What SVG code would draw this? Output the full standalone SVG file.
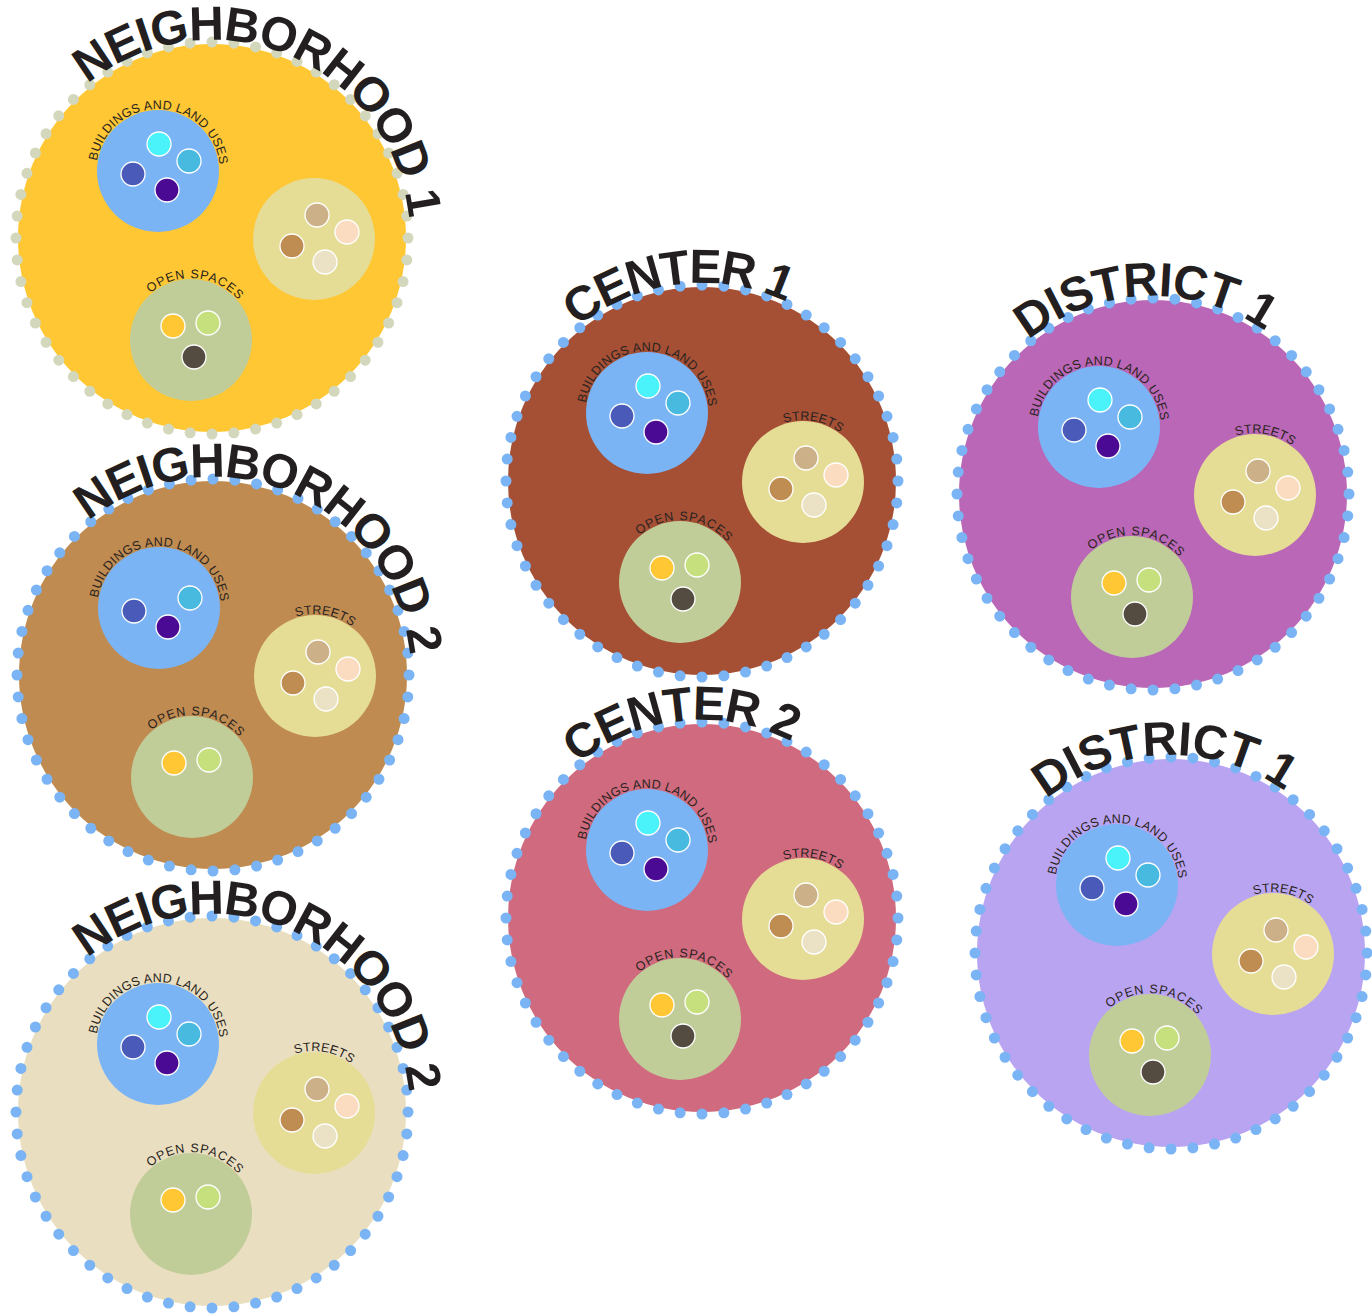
<svg xmlns="http://www.w3.org/2000/svg" xmlns:xlink="http://www.w3.org/1999/xlink" width="1372" height="1316" viewBox="0 0 1372 1316">
<style>
.title{font-family:"Liberation Sans",Arial,sans-serif;font-weight:700;font-size:48px;fill:#231f20}
.lbl{font-family:"Liberation Sans",Arial,sans-serif;font-size:12.5px;fill:#2a2420}
.ring{fill:none;stroke-width:11;stroke-linecap:round;stroke-dasharray:0 1}
.grey{stroke:#d3d7bb}
.blue{stroke:#7ab4f5}
.bld{fill:#7ab4f5}
.str{fill:#e5dc96}
.opn{fill:#c1cd99}
.d{stroke:#fff;stroke-width:1.3}
</style>
<defs>
<path id="titleArc" d="M -124.6 -153.9 A 198 198 0 0 1 124.6 153.9 A 198 198 0 0 1 -124.6 -153.9"/>
<path id="lblArc" d="M -62 0 A 62 62 0 0 1 62 0 A 62 62 0 0 1 -62 0"/>
</defs>
<g id="connectors"></g>

<g id="neighborhood-1" transform="translate(212,238)">
<circle r="194" fill="#fec733"/>
<circle class="ring grey" r="196" pathLength="56"/>
<text class="title"><textPath href="#titleArc" textLength="426" lengthAdjust="spacing">NEIGHBORHOOD 1</textPath></text>
<g id="n1-buildings" transform="translate(-54,-67)">
<circle class="bld" r="61"/>
<text class="lbl"><textPath href="#lblArc" startOffset="10" textLength="178">BUILDINGS AND LAND USES</textPath></text>
<circle class="d" cx="1" cy="-27" r="12" fill="#4af3fa"/>
<circle class="d" cx="31" cy="-10" r="12" fill="#48b9df"/>
<circle class="d" cx="-25" cy="3" r="12" fill="#4a5ab8"/>
<circle class="d" cx="9" cy="19" r="12" fill="#4a0a94"/>
</g>
<g id="n1-streets" transform="translate(102,1)">
<circle class="str" r="61"/>
<circle class="d" cx="3" cy="-24" r="12" fill="#ccb088"/>
<circle class="d" cx="33" cy="-7" r="12" fill="#fcdcc0"/>
<circle class="d" cx="-22" cy="7" r="12" fill="#bf8c52"/>
<circle class="d" cx="11" cy="23" r="12" fill="#ebe2c6"/>
</g>
<g id="n1-open" transform="translate(-21,102)">
<circle class="opn" r="61"/>
<text class="lbl"><textPath href="#lblArc" startOffset="53" textLength="98">OPEN SPACES</textPath></text>
<circle class="d" cx="-18" cy="-14" r="12" fill="#fec733"/>
<circle class="d" cx="17" cy="-17" r="12" fill="#c6e07e"/>
<circle class="d" cx="3" cy="17" r="12" fill="#544c40"/>
</g>
</g>

<g id="neighborhood-2" transform="translate(213,675)">
<circle r="194" fill="#bf8b50"/>
<circle class="ring blue" r="196" pathLength="56"/>
<text class="title"><textPath href="#titleArc" textLength="426" lengthAdjust="spacing">NEIGHBORHOOD 2</textPath></text>
<g id="n2-buildings" transform="translate(-54,-67)">
<circle class="bld" r="61"/>
<text class="lbl"><textPath href="#lblArc" startOffset="10" textLength="178">BUILDINGS AND LAND USES</textPath></text>
<circle class="d" cx="31" cy="-10" r="12" fill="#48b9df"/>
<circle class="d" cx="-25" cy="3" r="12" fill="#4a5ab8"/>
<circle class="d" cx="9" cy="19" r="12" fill="#4a0a94"/>
</g>
<g id="n2-streets" transform="translate(102,1)">
<circle class="str" r="61"/>
<text class="lbl"><textPath href="#lblArc" startOffset="78" textLength="59">STREETS</textPath></text>
<circle class="d" cx="3" cy="-24" r="12" fill="#ccb088"/>
<circle class="d" cx="33" cy="-7" r="12" fill="#fcdcc0"/>
<circle class="d" cx="-22" cy="7" r="12" fill="#bf8c52"/>
<circle class="d" cx="11" cy="23" r="12" fill="#ebe2c6"/>
</g>
<g id="n2-open" transform="translate(-21,102)">
<circle class="opn" r="61"/>
<text class="lbl"><textPath href="#lblArc" startOffset="53" textLength="98">OPEN SPACES</textPath></text>
<circle class="d" cx="-18" cy="-14" r="12" fill="#fec733"/>
<circle class="d" cx="17" cy="-17" r="12" fill="#c6e07e"/>
</g>
</g>

<g id="neighborhood-3" transform="translate(212,1112)">
<circle r="194" fill="#e9dfc0"/>
<circle class="ring blue" r="196" pathLength="56"/>
<text class="title"><textPath href="#titleArc" textLength="426" lengthAdjust="spacing">NEIGHBORHOOD 2</textPath></text>
<g id="n3-buildings" transform="translate(-54,-68)">
<circle class="bld" r="61"/>
<text class="lbl"><textPath href="#lblArc" startOffset="10" textLength="178">BUILDINGS AND LAND USES</textPath></text>
<circle class="d" cx="1" cy="-27" r="12" fill="#4af3fa"/>
<circle class="d" cx="31" cy="-10" r="12" fill="#48b9df"/>
<circle class="d" cx="-25" cy="3" r="12" fill="#4a5ab8"/>
<circle class="d" cx="9" cy="19" r="12" fill="#4a0a94"/>
</g>
<g id="n3-streets" transform="translate(102,1)">
<circle class="str" r="61"/>
<text class="lbl"><textPath href="#lblArc" startOffset="78" textLength="59">STREETS</textPath></text>
<circle class="d" cx="3" cy="-24" r="12" fill="#ccb088"/>
<circle class="d" cx="33" cy="-7" r="12" fill="#fcdcc0"/>
<circle class="d" cx="-22" cy="7" r="12" fill="#bf8c52"/>
<circle class="d" cx="11" cy="23" r="12" fill="#ebe2c6"/>
</g>
<g id="n3-open" transform="translate(-21,102)">
<circle class="opn" r="61"/>
<text class="lbl"><textPath href="#lblArc" startOffset="53" textLength="98">OPEN SPACES</textPath></text>
<circle class="d" cx="-18" cy="-14" r="12" fill="#fec733"/>
<circle class="d" cx="17" cy="-17" r="12" fill="#c6e07e"/>
</g>
</g>

<g id="center-1" transform="translate(702,481)">
<circle r="194" fill="#a54f35"/>
<circle class="ring blue" r="196" pathLength="56"/>
<text class="title"><textPath href="#titleArc" textLength="222" lengthAdjust="spacing">CENTER 1</textPath></text>
<g id="c1-buildings" transform="translate(-55,-68)">
<circle class="bld" r="61"/>
<text class="lbl"><textPath href="#lblArc" startOffset="10" textLength="178">BUILDINGS AND LAND USES</textPath></text>
<circle class="d" cx="1" cy="-27" r="12" fill="#4af3fa"/>
<circle class="d" cx="31" cy="-10" r="12" fill="#48b9df"/>
<circle class="d" cx="-25" cy="3" r="12" fill="#4a5ab8"/>
<circle class="d" cx="9" cy="19" r="12" fill="#4a0a94"/>
</g>
<g id="c1-streets" transform="translate(101,1)">
<circle class="str" r="61"/>
<text class="lbl"><textPath href="#lblArc" startOffset="78" textLength="59">STREETS</textPath></text>
<circle class="d" cx="3" cy="-24" r="12" fill="#ccb088"/>
<circle class="d" cx="33" cy="-7" r="12" fill="#fcdcc0"/>
<circle class="d" cx="-22" cy="7" r="12" fill="#bf8c52"/>
<circle class="d" cx="11" cy="23" r="12" fill="#ebe2c6"/>
</g>
<g id="c1-open" transform="translate(-22,101)">
<circle class="opn" r="61"/>
<text class="lbl"><textPath href="#lblArc" startOffset="53" textLength="98">OPEN SPACES</textPath></text>
<circle class="d" cx="-18" cy="-14" r="12" fill="#fec733"/>
<circle class="d" cx="17" cy="-17" r="12" fill="#c6e07e"/>
<circle class="d" cx="3" cy="17" r="12" fill="#544c40"/>
</g>
</g>

<g id="center-2" transform="translate(702,918)">
<circle r="194" fill="#d06a7e"/>
<circle class="ring blue" r="196" pathLength="56"/>
<text class="title"><textPath href="#titleArc" textLength="228" lengthAdjust="spacing">CENTER 2</textPath></text>
<g id="c2-buildings" transform="translate(-55,-68)">
<circle class="bld" r="61"/>
<text class="lbl"><textPath href="#lblArc" startOffset="10" textLength="178">BUILDINGS AND LAND USES</textPath></text>
<circle class="d" cx="1" cy="-27" r="12" fill="#4af3fa"/>
<circle class="d" cx="31" cy="-10" r="12" fill="#48b9df"/>
<circle class="d" cx="-25" cy="3" r="12" fill="#4a5ab8"/>
<circle class="d" cx="9" cy="19" r="12" fill="#4a0a94"/>
</g>
<g id="c2-streets" transform="translate(101,1)">
<circle class="str" r="61"/>
<text class="lbl"><textPath href="#lblArc" startOffset="78" textLength="59">STREETS</textPath></text>
<circle class="d" cx="3" cy="-24" r="12" fill="#ccb088"/>
<circle class="d" cx="33" cy="-7" r="12" fill="#fcdcc0"/>
<circle class="d" cx="-22" cy="7" r="12" fill="#bf8c52"/>
<circle class="d" cx="11" cy="23" r="12" fill="#ebe2c6"/>
</g>
<g id="c2-open" transform="translate(-22,101)">
<circle class="opn" r="61"/>
<text class="lbl"><textPath href="#lblArc" startOffset="53" textLength="98">OPEN SPACES</textPath></text>
<circle class="d" cx="-18" cy="-14" r="12" fill="#fec733"/>
<circle class="d" cx="17" cy="-17" r="12" fill="#c6e07e"/>
<circle class="d" cx="3" cy="17" r="12" fill="#544c40"/>
</g>
</g>

<g id="district-1" transform="translate(1153,494)">
<circle r="194" fill="#b967b6"/>
<circle class="ring blue" r="196" pathLength="56"/>
<text class="title"><textPath href="#titleArc" textLength="254" lengthAdjust="spacing">DISTRICT 1</textPath></text>
<g id="d1-buildings" transform="translate(-54,-67)">
<circle class="bld" r="61"/>
<text class="lbl"><textPath href="#lblArc" startOffset="10" textLength="178">BUILDINGS AND LAND USES</textPath></text>
<circle class="d" cx="1" cy="-27" r="12" fill="#4af3fa"/>
<circle class="d" cx="31" cy="-10" r="12" fill="#48b9df"/>
<circle class="d" cx="-25" cy="3" r="12" fill="#4a5ab8"/>
<circle class="d" cx="9" cy="19" r="12" fill="#4a0a94"/>
</g>
<g id="d1-streets" transform="translate(102,1)">
<circle class="str" r="61"/>
<text class="lbl"><textPath href="#lblArc" startOffset="78" textLength="59">STREETS</textPath></text>
<circle class="d" cx="3" cy="-24" r="12" fill="#ccb088"/>
<circle class="d" cx="33" cy="-7" r="12" fill="#fcdcc0"/>
<circle class="d" cx="-22" cy="7" r="12" fill="#bf8c52"/>
<circle class="d" cx="11" cy="23" r="12" fill="#ebe2c6"/>
</g>
<g id="d1-open" transform="translate(-21,103)">
<circle class="opn" r="61"/>
<text class="lbl"><textPath href="#lblArc" startOffset="53" textLength="98">OPEN SPACES</textPath></text>
<circle class="d" cx="-18" cy="-14" r="12" fill="#fec733"/>
<circle class="d" cx="17" cy="-17" r="12" fill="#c6e07e"/>
<circle class="d" cx="3" cy="17" r="12" fill="#544c40"/>
</g>
</g>

<g id="district-2" transform="translate(1171,953)">
<circle r="194" fill="#b9a4f2"/>
<circle class="ring blue" r="196" pathLength="56"/>
<text class="title"><textPath href="#titleArc" textLength="256" lengthAdjust="spacing">DISTRICT 1</textPath></text>
<g id="d2-buildings" transform="translate(-54,-68)">
<circle class="bld" r="61"/>
<text class="lbl"><textPath href="#lblArc" startOffset="10" textLength="178">BUILDINGS AND LAND USES</textPath></text>
<circle class="d" cx="1" cy="-27" r="12" fill="#4af3fa"/>
<circle class="d" cx="31" cy="-10" r="12" fill="#48b9df"/>
<circle class="d" cx="-25" cy="3" r="12" fill="#4a5ab8"/>
<circle class="d" cx="9" cy="19" r="12" fill="#4a0a94"/>
</g>
<g id="d2-streets" transform="translate(102,1)">
<circle class="str" r="61"/>
<text class="lbl"><textPath href="#lblArc" startOffset="78" textLength="59">STREETS</textPath></text>
<circle class="d" cx="3" cy="-24" r="12" fill="#ccb088"/>
<circle class="d" cx="33" cy="-7" r="12" fill="#fcdcc0"/>
<circle class="d" cx="-22" cy="7" r="12" fill="#bf8c52"/>
<circle class="d" cx="11" cy="23" r="12" fill="#ebe2c6"/>
</g>
<g id="d2-open" transform="translate(-21,102)">
<circle class="opn" r="61"/>
<text class="lbl"><textPath href="#lblArc" startOffset="53" textLength="98">OPEN SPACES</textPath></text>
<circle class="d" cx="-18" cy="-14" r="12" fill="#fec733"/>
<circle class="d" cx="17" cy="-17" r="12" fill="#c6e07e"/>
<circle class="d" cx="3" cy="17" r="12" fill="#544c40"/>
</g>
</g>
</svg>
